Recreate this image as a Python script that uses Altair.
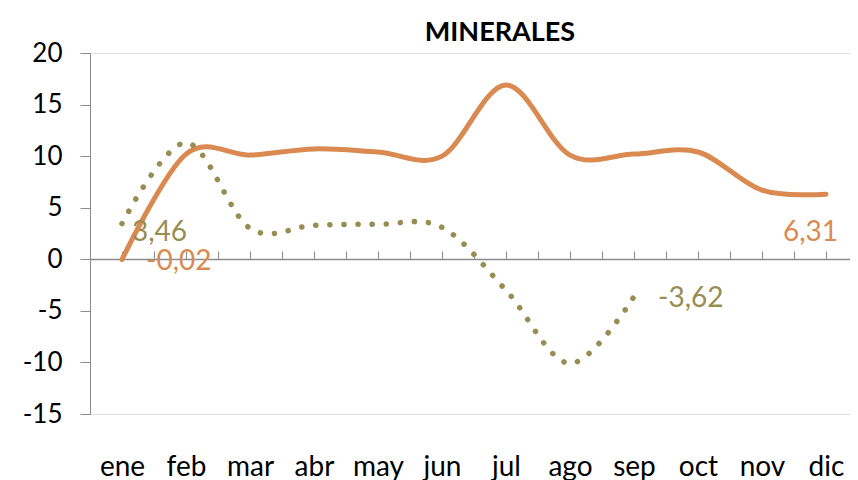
import altair as alt
import pandas as pd

months = ["ene", "feb", "mar", "abr", "may", "jun", "jul", "ago", "sep", "oct", "nov", "dic"]
orange_vals = [-0.02, 10.2, 10.1, 10.7, 10.4, 10.0, 16.9, 10.1, 10.2, 10.4, 6.7, 6.31]
olive_vals = [3.46, 11.3, 3.0, 3.3, 3.4, 3.1, -3.0, -10.1, -3.62]

ORANGE = "#DA8A50"
OLIVE = "#978C52"
AXIS = "#8C8C8C"
FONT = "Lato"

rows = []
for i, v in enumerate(orange_vals):
    rows.append({"idx": i, "serie": "orange", "value": v, "label": f"{v:.2f}".replace(".", ",")})
for i, v in enumerate(olive_vals):
    rows.append({"idx": i, "serie": "olive", "value": v, "label": f"{v:.2f}".replace(".", ",")})
df = pd.DataFrame(rows)

xdom = [-0.5, 11.375]
half_ticks = [x / 2 for x in range(-1, 23)]

yenc = alt.Y(
    "value:Q",
    scale=alt.Scale(domain=[-15, 20], nice=False, zero=False),
    axis=alt.Axis(
        values=list(range(-15, 21, 5)), grid=False, title=None,
        domainColor=AXIS, tickColor=AXIS, tickSize=10, labelPadding=18,
        labelFont=FONT, labelFontSize=26, labelColor="#000000",
        labelExpr="toString(datum.value)",
    ),
)

x_ticks = alt.X(
    "idx:Q",
    scale=alt.Scale(domain=xdom, nice=False, zero=False),
    axis=alt.Axis(
        orient="top", offset=-206, values=half_ticks, labels=False, grid=False,
        title=None, domainColor=AXIS, tickColor=AXIS, tickSize=8, domainWidth=1.5,
    ),
)

x_labels = alt.X(
    "idx:Q",
    scale=alt.Scale(domain=xdom, nice=False, zero=False),
    axis=alt.Axis(
        orient="bottom", values=list(range(12)), domain=False, ticks=False, grid=False,
        title=None, labelExpr=f"{months}[datum.value]", labelPadding=53,
        labelFont=FONT, labelFontSize=28, labelColor="#000000", labelBaseline="middle",
    ),
)

base = alt.Chart(df)

orange_line = base.transform_filter(alt.datum.serie == "orange").mark_line(
    color=ORANGE, strokeWidth=5, interpolate="cardinal", strokeCap="round"
).encode(x=x_ticks, y=yenc)

olive_line = base.transform_filter(alt.datum.serie == "olive").mark_line(
    color=OLIVE, strokeWidth=5.5, interpolate="cardinal", strokeCap="round",
    strokeDash=[0.1, 14],
).encode(x=x_labels, y=yenc)

xs = alt.X("idx:Q", scale=alt.Scale(domain=xdom, nice=False, zero=False), axis=None)


def label_layer(serie, idx, color, align, dx, dy):
    return base.transform_filter(
        (alt.datum.serie == serie) & (alt.datum.idx == idx)
    ).mark_text(
        color=color, align=align, baseline="middle", dx=dx, dy=dy,
        font=FONT, fontSize=28,
    ).encode(x=xs, y=yenc, text="label:N")


labels = [
    label_layer("olive", 0, OLIVE, "left", 10, 9),
    label_layer("orange", 0, ORANGE, "left", 24, 3),
    label_layer("olive", 8, OLIVE, "left", 24, 2),
    label_layer("orange", 11, ORANGE, "right", 12, 39),
]

chart = alt.layer(orange_line, olive_line, *labels).resolve_scale(
    x="independent"
).properties(
    width=760,
    height=361,
    title=alt.TitleParams(
        "MINERALES", font=FONT, fontSize=27, fontWeight="bold", color="#000000",
        anchor="middle", frame="group", dx=30, offset=-7,
    ),
    padding={"left": 82, "top": 45, "right": 0, "bottom": 66},
    autosize=alt.AutoSizeParams(type="none"),
).configure_view(stroke=None).configure(background="white")

chart.save("out.html", embed_options={"renderer": "svg", "actions": False})
